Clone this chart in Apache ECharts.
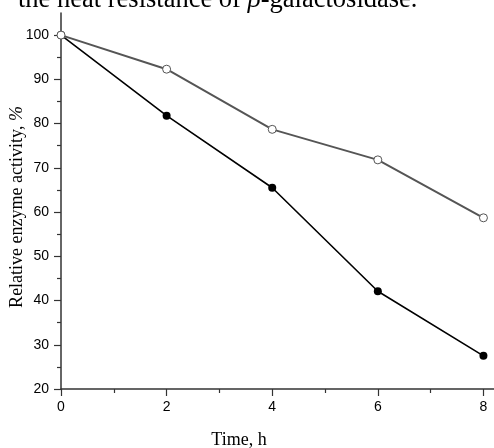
<!DOCTYPE html>
<html>
<head>
<meta charset="utf-8">
<script src="https://cdn.jsdelivr.net/npm/echarts@6/dist/echarts.min.js"></script>
<style>
html, body { margin: 0; padding: 0; background: #fff; }
#chart { width: 494px; height: 448px; }
</style>
</head>
<body>
<div id="chart"></div>
<script>
// time points (h) and relative activity (%)
const timeH = [0, 2, 4, 6, 8];
const openActivity = [100, 92.3, 78.7, 71.8, 58.7];
const filledActivity = [100, 81.8, 65.5, 42.1, 27.5];

const xMajorTicks = [0, 2, 4, 6, 8];
const xMinorTicks = [1, 3, 5, 7];
const yMajorTicks = [20, 30, 40, 50, 60, 70, 80, 90, 100];
const yMinorTicks = [25, 35, 45, 55, 65, 75, 85, 95];

const axisColor = '#333';
const labelFont = { fontFamily: 'Liberation Sans', fontSize: 14, color: '#000' };

let chart = echarts.init(document.getElementById('chart'), null, { renderer: 'canvas' });

function xAxisCfg(major) {
    return {
        type: 'value',
        min: 0,
        max: 8.2,
        position: 'bottom',
        axisLine: { show: major, onZero: false, lineStyle: { color: axisColor, width: 1.5 } },
        axisTick: {
            show: true,
            inside: false,
            length: major ? 7 : 4,
            customValues: major ? xMajorTicks : xMinorTicks,
            lineStyle: { color: axisColor, width: 1.2 }
        },
        axisLabel: major ? Object.assign({ customValues: xMajorTicks, margin: 11 }, labelFont) : { show: false },
        splitLine: { show: false }
    }
}

function yAxisCfg(major) {
    return {
        type: 'value',
        min: 20,
        max: 105,
        position: 'left',
        axisLine: { show: major, onZero: false, lineStyle: { color: axisColor, width: 1.5 } },
        axisTick: {
            show: true,
            inside: false,
            length: major ? 7 : 4,
            customValues: major ? yMajorTicks : yMinorTicks,
            lineStyle: { color: axisColor, width: 1.2 }
        },
        axisLabel: major ? Object.assign({ customValues: yMajorTicks, margin: 12 }, labelFont) : { show: false },
        splitLine: { show: false }
    }
}

let option = {
    animation: false,
    backgroundColor: '#fff',
    grid: { left: 61, top: 13, right: 0, bottom: 59 },
    xAxis: [xAxisCfg(true), xAxisCfg(false)],
    yAxis: [yAxisCfg(true), yAxisCfg(false)],
    graphic: [
        {
            type: 'text',
            left: 18,
            top: -13,
            style: {
                text: '{a|the heat resistance of }{b|β}{a|-galactosidase.}',
                rich: {
                    a: { fontFamily: 'Liberation Serif', fontSize: 26.5, fill: '#000' },
                    b: { fontFamily: 'Liberation Serif', fontSize: 26.5, fontStyle: 'italic', fill: '#000' }
                }
            }
        },
        {
            type: 'text',
            x: 17,
            y: 207,
            rotation: Math.PI / 2,
            style: {
                text: '{a|Relative enzyme activity, }{b|%}',
                align: 'center',
                verticalAlign: 'middle',
                rich: {
                    a: { fontFamily: 'Liberation Serif', fontSize: 18, fill: '#000' },
                    b: { fontFamily: 'Liberation Serif', fontSize: 18, fontStyle: 'italic', fill: '#000' }
                }
            }
        },
        {
            type: 'text',
            x: 239,
            y: 440,
            style: {
                text: 'Time, h',
                align: 'center',
                verticalAlign: 'middle',
                fontFamily: 'Liberation Serif',
                fontSize: 18,
                fill: '#000'
            }
        }
    ],
    series: [
        {
            name: 'filled',
            type: 'line',
            data: timeH.map((t, i) => [t, filledActivity[i]]),
            symbol: 'circle',
            symbolSize: 8,
            lineStyle: { color: '#000', width: 1.6 },
            itemStyle: { color: '#000' },
            z: 2
        },
        {
            name: 'open',
            type: 'line',
            data: timeH.map((t, i) => [t, openActivity[i]]),
            symbol: 'circle',
            symbolSize: 8,
            lineStyle: { color: '#555', width: 2 },
            itemStyle: { color: '#fff', borderColor: '#555', borderWidth: 1 },
            z: 3
        }
    ]
}
chart.setOption(option)
</script>
</body>
</html>
